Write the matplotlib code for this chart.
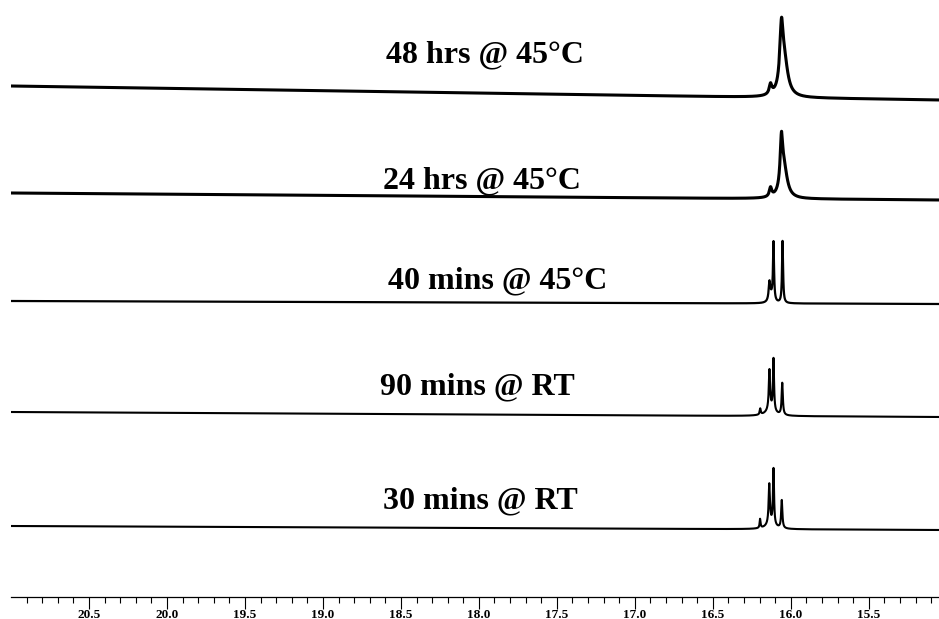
import numpy as np
import matplotlib
matplotlib.use("Agg")
import matplotlib.pyplot as plt
from matplotlib.ticker import FixedLocator, FormatStrFormatter

plt.rcParams['font.family'] = ['Liberation Serif', 'DejaVu Serif']
plt.rcParams['font.weight'] = 'bold'

# spectra, top to bottom
labels = ['48 hrs @ 45°C', '24 hrs @ 45°C', '40 mins @ 45°C', '90 mins @ RT', '30 mins @ RT']

# peak lists: position (ppm), height, FWHM (ppm)
peak_pos = [
    [16.060, 16.042, 16.130],
    [16.060, 16.043, 16.130],
    [16.137, 16.111, 16.053, 16.125],
    [16.137, 16.111, 16.055, 16.196, 16.130],
    [16.138, 16.111, 16.058, 16.197, 16.130],
]
peak_height = [
    [56, 34, 10],
    [48, 28, 9],
    [18, 58, 62, 6],
    [40, 52, 32, 6, 6],
    [40, 56, 28, 9, 5],
]
peak_width = [
    [0.025, 0.055, 0.02],
    [0.02, 0.05, 0.018],
    [0.012, 0.008, 0.008, 0.03],
    [0.01, 0.008, 0.009, 0.008, 0.07],
    [0.01, 0.008, 0.009, 0.007, 0.07],
]
# baseline level at left (21.0 ppm) and right (15.05 ppm) end
base_left = [511, 404, 296, 185, 71]
base_right = [497, 397, 293, 180, 67]

major_ticks = [20.5, 20.0, 19.5, 19.0, 18.5, 18.0, 17.5, 17.0, 16.5, 16.0, 15.5]

line_w = [2.2, 2.2, 1.6, 1.5, 1.5]

label_x = [485, 482, 498, 477, 480]      # px centre
label_y = [62, 188, 288, 394, 508]       # px baseline

x_lo, x_hi = 15.05, 21.0
ppm = np.arange(x_lo, x_hi, 0.0005)

fig = plt.figure(figsize=(9.39, 6.19), dpi=100)
ax = fig.add_axes([11 / 939, 22 / 619, 928 / 939, 597 / 619])

for i in range(len(labels)):
    y = base_right[i] + (base_left[i] - base_right[i]) * (ppm - x_lo) / (x_hi - x_lo)
    for p, h, w in zip(peak_pos[i], peak_height[i], peak_width[i]):
        y = y + h / (1 + ((ppm - p) / (w / 2)) ** 2)
    ax.plot(ppm, y, color='black', lw=line_w[i], solid_joinstyle='round')
    fig.text(label_x[i] / 939, 1 - label_y[i] / 619, labels[i], ha='center',
             va='baseline', fontsize=23, fontweight='bold')

ax.set_xlim(x_hi, x_lo)
ax.set_ylim(0, 597)
for s in ['left', 'right', 'top']:
    ax.spines[s].set_visible(False)
ax.spines['bottom'].set_linewidth(0.9)
ax.set_yticks([])
minor_ticks = [round(15.1 + 0.1 * k, 1) for k in range(59)]
ax.xaxis.set_major_locator(FixedLocator(major_ticks))
ax.xaxis.set_minor_locator(FixedLocator([t for t in minor_ticks if t not in major_ticks]))
ax.xaxis.set_major_formatter(FormatStrFormatter('%.1f'))
ax.tick_params(axis='x', which='major', direction='out', length=8.4, width=0.8,
               pad=0, labelsize=9.5)
ax.tick_params(axis='x', which='minor', direction='out', length=4.3, width=0.8)
for t in ax.get_xticklabels():
    t.set_fontweight('bold')

fig.savefig('out.png', dpi=100)
